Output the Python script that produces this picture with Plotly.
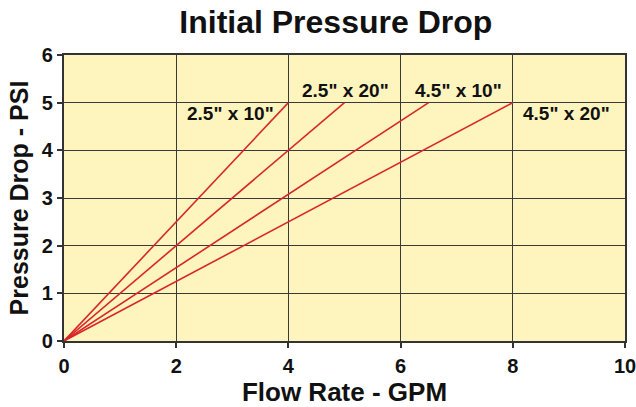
import plotly.graph_objects as go

series_names = ['2.5" x 10"', '2.5" x 20"', '4.5" x 10"', '4.5" x 20"']
flow_end = [4.0, 5.0, 6.5, 8.0]
psi_end = [5.0, 5.0, 5.0, 5.0]
label_x = [2.96, 5.02, 7.03, 8.96]
label_y = [4.78, 5.25, 5.25, 4.78]
x_ticks = [0, 2, 4, 6, 8, 10]
y_ticks = [0, 1, 2, 3, 4, 5, 6]

FONT = "Liberation Sans"
fig = go.Figure()
for name, fx, py in zip(series_names, flow_end, psi_end):
    fig.add_trace(go.Scatter(x=[0, fx], y=[0, py], mode="lines", name=name,
                             line=dict(color="#D8262A", width=1.6), showlegend=False,
                             hoverinfo="skip"))

for name, lx, ly in zip(series_names, label_x, label_y):
    fig.add_annotation(x=lx, y=ly, text=name, showarrow=False,
                       font=dict(family=FONT, size=19, color="#111", weight="bold"))

axis_common = dict(showgrid=True, gridcolor="#3a3a3a", gridwidth=1.3,
                   showline=True, linecolor="#333", linewidth=2.2, mirror=True,
                   ticks="outside", ticklen=5, tickcolor="#333", tickwidth=1.5,
                   zeroline=False, automargin=False, ticklabeloverflow="allow",
                   tickfont=dict(family=FONT, size=20, color="#111", weight="bold"))

fig.update_layout(
    width=636, height=407,
    margin=dict(l=64, r=11, t=55, b=66),
    paper_bgcolor="white", plot_bgcolor="#FDF4BE",
    title=dict(text="Initial Pressure Drop", x=0.528, xanchor="center", y=0.975, yanchor="top",
               font=dict(family=FONT, size=32, color="#111", weight="bold")),
    xaxis=dict(range=[0, 10], tickvals=x_ticks, ticklabelstandoff=1,
               title=dict(text="Flow Rate - GPM", standoff=0,
                          font=dict(family=FONT, size=26, color="#111", weight="bold")),
               **axis_common),
    yaxis=dict(range=[0, 6], tickvals=y_ticks,
               title=dict(text="Pressure Drop - PSI", standoff=6,
                          font=dict(family=FONT, size=25, color="#111", weight="bold")),
               **axis_common),
)
fig.write_html("out.html", config={"displayModeBar": False},
               post_script="document.body.style.margin='0px';")
